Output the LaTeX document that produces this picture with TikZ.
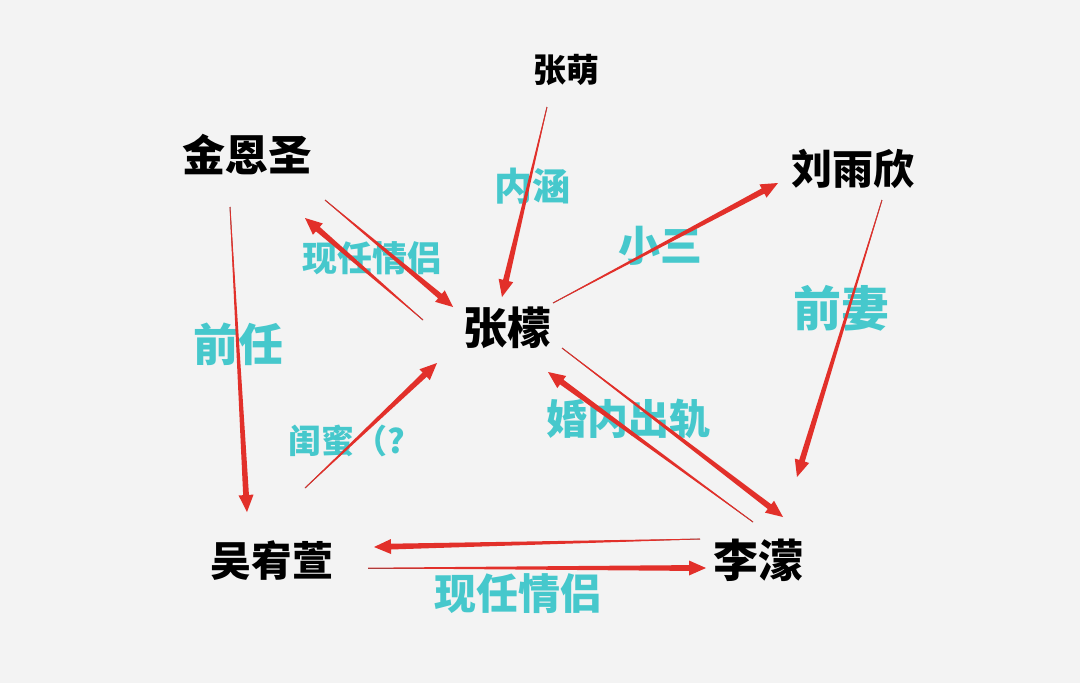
\documentclass[tikz,border=0pt]{standalone}
\usepackage{fontspec}
\setmainfont{Noto Sans CJK SC}
\usetikzlibrary{calc}
\definecolor{bg}{HTML}{F3F3F3}
\definecolor{arrred}{HTML}{E2302A}
\definecolor{arrdark}{HTML}{8E4446}
\definecolor{lblcyan}{HTML}{46C8CC}
\newcommand\fsz[1]{\fontsize{#1}{#1}\selectfont}
\newcommand\taper[2]{%
  \coordinate (hb) at ($(#2)!17pt!(#1)$);
  \draw[arrdark,line width=1pt] (#1) -- ($(#1)!0.5!(#2)$);
  \fill[arrred] ($(#1)!0.3pt!90:(#2)$) -- ($(hb)!2.9pt!-90:(#1)$) -- ($(hb)!7.5pt!-90:(#1)$) -- (#2)
     -- ($(hb)!7.5pt!90:(#1)$) -- ($(hb)!2.9pt!90:(#1)$) -- ($(#1)!0.3pt!-90:(#2)$) -- cycle;
}
\tikzset{
  person/.style={inner sep=0pt,text=black},
  lbl/.style={inner sep=0pt,text=lblcyan},
}
\begin{document}
\begin{tikzpicture}[x=1pt,y=-1pt]
\useasboundingbox (0,0) rectangle (1080,683);
\fill[bg] (0,0) rectangle (1080,683);
% people
\node[person,font=\bfseries\fsz{33}] (zm) at (566,70) {张萌};
\node[person,font=\bfseries\fsz{43}] (jes) at (247,155) {金恩圣};
\node[person,font=\bfseries\fsz{41}] (lyx) at (853,169) {刘雨欣};
\node[person,font=\bfseries\fsz{44}] (zmeng) at (507,328) {张檬};
\node[person,font=\bfseries\fsz{41}] (wyx) at (272,561) {吴宥萱};
\node[person,font=\bfseries\fsz{45}] (lm) at (758,560) {李濛};
% labels
\node[lbl,font=\bfseries\fsz{35}] (l1) at (372,258) {现任情侣};
\node[lbl,font=\bfseries\fsz{38}] (l2) at (532,186) {内涵};
\node[lbl,font=\bfseries\fsz{42}] (l3) at (660,246) {小三};
\node[lbl,font=\bfseries\fsz{48}] (l4) at (841,308) {前妻};
\node[lbl,font=\bfseries\fsz{45}] (l5) at (238,344) {前任};
\node[lbl,font=\bfseries\fsz{33},anchor=west] (l6) at (288,441) {闺蜜（?};
\node[lbl,font=\bfseries\fsz{41}] (l7) at (628,419) {婚内出轨};
\node[lbl,font=\bfseries\fsz{42}] (l8) at (518,594) {现任情侣};
% arrow end points
\coordinate (a1s) at (325,200); \coordinate (a1e) at (453,307);
\coordinate (a2s) at (423,320); \coordinate (a2e) at (305,218);
\coordinate (a3s) at (547,107); \coordinate (a3e) at (502,297);
\coordinate (a4s) at (553,303); \coordinate (a4e) at (778,183);
\coordinate (a5s) at (882,200); \coordinate (a5e) at (797,477);
\coordinate (a6s) at (230,207); \coordinate (a6e) at (247,512);
\coordinate (a7s) at (305,488); \coordinate (a7e) at (437,363);
\coordinate (a8s) at (562,348); \coordinate (a8e) at (783,517);
\coordinate (a9s) at (753,522); \coordinate (a9e) at (548,372);
\coordinate (a10s) at (700,539); \coordinate (a10e) at (374,547);
\coordinate (a11s) at (368,568); \coordinate (a11e) at (706,568);
\taper{a1s}{a1e}
\taper{a2s}{a2e}
\taper{a3s}{a3e}
\taper{a4s}{a4e}
\taper{a5s}{a5e}
\taper{a6s}{a6e}
\taper{a7s}{a7e}
\taper{a8s}{a8e}
\taper{a9s}{a9e}
\taper{a10s}{a10e}
\taper{a11s}{a11e}
\end{tikzpicture}
\end{document}
